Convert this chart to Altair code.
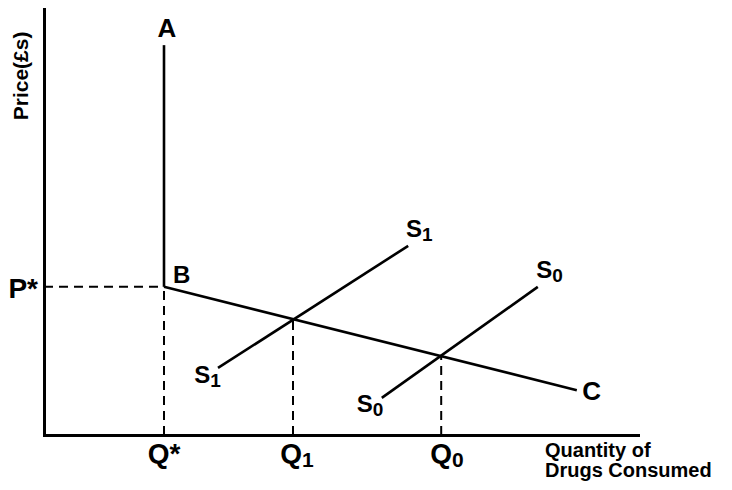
import altair as alt
import pandas as pd

FONT = "Liberation Sans"

# Key quantities / prices (chart units)
q_star, p_star = 20, 34.7
a_top = 91.3
q1, p1 = 41.5, 27.0
q0, p0 = 66.2, 18.4
c_end = (88.8, 10.5)
s1_line = [(29, 15.7), (60.7, 44.3)]
s0_line = [(56.3, 8.7), (82.3, 34.7)]

# Solid segments: x, y, x2, y2
solid_x = [q_star, q_star, s1_line[0][0], s0_line[0][0]]
solid_y = [a_top, p_star, s1_line[0][1], s0_line[0][1]]
solid_x2 = [q_star, c_end[0], s1_line[1][0], s0_line[1][0]]
solid_y2 = [p_star, c_end[1], s1_line[1][1], s0_line[1][1]]

# Dashed guide segments
dash_x = [0, q_star, q1, q0]
dash_y = [p_star, 0, 0, 0]
dash_x2 = [q_star, q_star, q1, q0]
dash_y2 = [p_star, p_star, p1, p0]

# Labels (main glyph)
lab_text = ["A", "B", "P*", "Q*", "Q", "Q", "S", "S", "S", "S", "C"]
lab_x = [20.5, 21.5, -1.0, 20, 43, 68, 63, 84.7, 27.7, 54.8, 89.7]
lab_y = [93.2, 35.6, 32.1, -6.6, -6.6, -6.6, 46.4, 36.8, 12.2, 5.4, 8.2]
lab_size = [26, 24, 28, 28, 28, 28, 24, 24, 24, 24, 26]
lab_align = ["center", "left", "right", "center", "right", "right",
             "right", "right", "right", "right", "left"]

# Subscripts
sub_text = ["1", "0", "1", "0", "1", "0"]
sub_x = [43, 68, 63, 84.7, 27.7, 54.8]
sub_y = [-6.6, -6.6, 46.4, 36.8, 12.2, 5.4]
sub_size = [21, 21, 19, 19, 19, 19]

# Axis titles
xt_text = ["Quantity of", "Drugs Consumed"]
xt_x = [83.5, 83.5]
xt_y = [-5.1, -9.8]
yt_text = ["Price(£s)"]
yt_x = [-3.67]
yt_y = [84.1]

xs = alt.Scale(domain=[0, 99], nice=False, zero=False)
ys = alt.Scale(domain=[0, 100], nice=False, zero=False)

solid = pd.DataFrame({"x": solid_x, "y": solid_y, "x2": solid_x2, "y2": solid_y2})
dashed = pd.DataFrame({"x": dash_x, "y": dash_y, "x2": dash_x2, "y2": dash_y2})
labels = pd.DataFrame({"t": lab_text, "x": lab_x, "y": lab_y, "s": lab_size, "a": lab_align})
subs = pd.DataFrame({"t": sub_text, "x": sub_x, "y": sub_y, "s": sub_size})
xtitle = pd.DataFrame({"t": xt_text, "x": xt_x, "y": xt_y})
ytitle = pd.DataFrame({"t": yt_text, "x": yt_x, "y": yt_y})

axis_x = alt.Axis(domain=True, ticks=False, labels=False, grid=False, title=None,
                  domainColor="black", domainWidth=3, domainCap="square")
axis_y = alt.Axis(domain=True, ticks=False, labels=False, grid=False, title=None,
                  domainColor="black", domainWidth=3, domainCap="square")

solid_layer = alt.Chart(solid).mark_rule(color="black", strokeWidth=2.6).encode(
    x=alt.X("x:Q", scale=xs, axis=axis_x), y=alt.Y("y:Q", scale=ys, axis=axis_y),
    x2="x2:Q", y2="y2:Q")

dash_layer = alt.Chart(dashed).mark_rule(color="black", strokeWidth=2, strokeDash=[9, 6]).encode(
    x=alt.X("x:Q", scale=xs), y=alt.Y("y:Q", scale=ys), x2="x2:Q", y2="y2:Q")

layers = [dash_layer, solid_layer]
for a in ["left", "center", "right"]:
    layers.append(
        alt.Chart(labels).transform_filter(alt.datum.a == a).mark_text(
            align=a, baseline="alphabetic", font=FONT, fontWeight="bold", color="black"
        ).encode(x=alt.X("x:Q", scale=xs), y=alt.Y("y:Q", scale=ys),
                 text="t:N", size=alt.Size("s:Q", scale=None, legend=None))
    )

layers.append(
    alt.Chart(subs).mark_text(align="left", baseline="alphabetic", dy=4, font=FONT,
                              fontWeight="bold", color="black").encode(
        x=alt.X("x:Q", scale=xs), y=alt.Y("y:Q", scale=ys),
        text="t:N", size=alt.Size("s:Q", scale=None, legend=None))
)
layers.append(
    alt.Chart(xtitle).mark_text(align="left", baseline="alphabetic", font=FONT,
                                fontWeight="bold", fontSize=20, color="black").encode(
        x=alt.X("x:Q", scale=xs), y=alt.Y("y:Q", scale=ys), text="t:N")
)
layers.append(
    alt.Chart(ytitle).mark_text(align="center", baseline="middle", angle=270, font=FONT,
                                fontWeight="bold", fontSize=21, color="black").encode(
        x=alt.X("x:Q", scale=xs), y=alt.Y("y:Q", scale=ys), text="t:N")
)

chart = alt.layer(*layers).properties(
    width=594, height=427,
    autosize=alt.AutoSizeParams(type="none"),
    padding={"left": 36, "top": 0, "right": 86, "bottom": 46},
    background="white",
).configure_view(stroke=None)

chart.save("out.html", embed_options={"renderer": "svg", "actions": False})
